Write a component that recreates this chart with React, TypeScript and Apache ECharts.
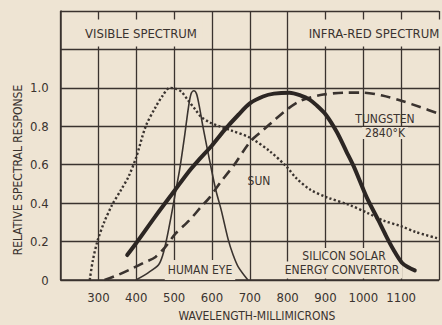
import React, { useEffect, useRef } from "react";
import * as echarts from "echarts";

// Wavelength (millimicrons) vs relative spectral response
const xTickLabels = [300, 400, 500, 600, 700, 800, 900, 1000, 1100];
const yTickLabels = [0, 0.2, 0.4, 0.6, 0.8, 1.0];

const sun: [number, number][] = [
  [277, 0], [285, 0.1], [297, 0.2], [315, 0.3], [336, 0.39], [360, 0.47], [380, 0.54],
  [400, 0.64], [425, 0.8], [451, 0.9], [470, 0.96], [488, 1.0], [505, 0.995],
  [519, 0.98], [535, 0.94], [555, 0.89], [571, 0.85], [594, 0.82], [620, 0.8], [649, 0.78],
  [701, 0.74], [753, 0.67], [797, 0.59], [823, 0.53], [860, 0.47], [904, 0.43], [964, 0.39],
  [1010, 0.35], [1052, 0.31], [1100, 0.28], [1138, 0.25], [1200, 0.215],
];

const humanEye: [number, number][] = [
  [399, 0], [433, 0.04], [459, 0.08], [470, 0.13], [480, 0.21], [492, 0.33], [503, 0.45],
  [515, 0.58], [527, 0.74], [538, 0.9], [545, 0.97], [552, 0.985], [559, 0.97], [566, 0.91],
  [576, 0.8], [594, 0.62], [610, 0.47], [625, 0.36], [643, 0.21], [656, 0.13], [669, 0.07],
  [695, 0],
];

const silicon: [number, number][] = [
  [376, 0.13], [399, 0.19], [450, 0.33], [503, 0.47], [537, 0.56], [563, 0.62], [600, 0.7],
  [633, 0.78], [670, 0.86], [701, 0.92], [735, 0.955], [764, 0.97], [805, 0.975], [835, 0.96],
  [857, 0.94], [876, 0.91], [901, 0.86], [930, 0.77], [955, 0.67], [975, 0.59], [1009, 0.43],
  [1040, 0.31], [1060, 0.23], [1079, 0.16], [1102, 0.09], [1120, 0.065], [1136, 0.05],
];

const tungsten: [number, number][] = [
  [316, 0], [350, 0.025], [389, 0.06], [420, 0.09], [451, 0.12], [480, 0.18], [503, 0.24],
  [540, 0.31], [571, 0.38], [594, 0.43], [623, 0.51], [659, 0.6], [701, 0.72], [735, 0.78],
  [764, 0.83], [800, 0.89], [831, 0.93], [860, 0.95], [894, 0.965], [950, 0.975],
  [1000, 0.975], [1050, 0.96], [1105, 0.93], [1150, 0.9], [1200, 0.865],
];

const BG = "#eee4d3";
const INK = "#3a332f";
const FONT = "'Liberation Sans Narrow', 'DejaVu Sans Condensed', 'Roboto', sans-serif";

export default function App() {
  const ref = useRef<HTMLDivElement>(null);

  useEffect(() => {
    if (!ref.current) return;
    const chart = echarts.init(ref.current, null, { renderer: "svg" });

    const label = (text: string, x: number, y: number, size: number, bg: boolean, extra: any = {}) => ({
      type: "text",
      x,
      y,
      z: 1,
      style: {
        text,
        fill: INK,
        font: `${size}px ${FONT}`,
        align: "center",
        verticalAlign: "middle",
        ...(bg ? { backgroundColor: BG, padding: [3, 3] } : {}),
        ...extra,
      },
    });

    chart.setOption({
      animation: false,
      backgroundColor: BG,
      grid: { left: 60.6, right: -2.6, top: 11, bottom: 45, containLabel: false },
      xAxis: {
        type: "value",
        min: 200,
        max: 1200,
        interval: 100,
        axisLine: { show: true, lineStyle: { color: INK, width: 1.5 } },
        axisTick: { show: false },
        splitLine: { show: true, lineStyle: { color: INK, width: 1.3 } },
        axisLabel: {
          color: INK,
          fontFamily: FONT,
          fontSize: 13,
          margin: 11,
          formatter: (v: number) => (xTickLabels.includes(v) ? String(v) : ""),
        },
      },
      yAxis: {
        type: "value",
        min: 0,
        max: 1.4,
        interval: 0.2,
        axisLine: { show: true, lineStyle: { color: INK, width: 1.5 } },
        axisTick: { show: false },
        splitLine: { show: true, lineStyle: { color: INK, width: 1.3 } },
        axisLabel: {
          color: INK,
          fontFamily: FONT,
          fontSize: 13,
          margin: 12,
          formatter: (v: number) => {
            const r = Math.round(v * 10) / 10;
            if (!yTickLabels.includes(r)) return "";
            return r === 0 ? "0" : r.toFixed(1);
          },
        },
      },
      series: [
        {
          name: "Sun",
          type: "line",
          data: sun,
          smooth: 0.3,
          showSymbol: false,
          z: 3,
          lineStyle: { color: INK, width: 2.4, type: [2.2, 2.3] },
        },
        {
          name: "Human eye",
          type: "line",
          data: humanEye,
          smooth: 0.3,
          showSymbol: false,
          z: 3,
          lineStyle: { color: INK, width: 1.6 },
        },
        {
          name: "Tungsten 2840°K",
          type: "line",
          data: tungsten,
          smooth: 0.3,
          showSymbol: false,
          z: 3,
          lineStyle: { color: INK, width: 2.6, type: [10, 6] },
        },
        {
          name: "Silicon solar energy convertor",
          type: "line",
          data: silicon,
          smooth: 0.3,
          showSymbol: false,
          z: 4,
          lineStyle: { color: "#2c2623", width: 4, cap: "round" },
        },
      ],
      graphic: [
        label("VISIBLE SPECTRUM", 141, 33, 13, true, { padding: [7, 6] }),
        label("INFRA-RED SPECTRUM", 374, 33, 13, true, { padding: [7, 6] }),
        label("TUNGSTEN", 385, 119, 12, false),
        label("2840°K", 385, 133, 12, true, { padding: [0, 3] }),
        label("SUN", 259, 181, 12, false),
        label("HUMAN EYE", 200, 270, 12, true, { padding: [4, 3] }),
        label("SILICON SOLAR", 344, 256, 12, true, { padding: [4, 3, 0, 3] }),
        label("ENERGY CONVERTOR", 342, 270, 12, true, { padding: [1, 3, 4, 3] }),
        {
          type: "text",
          x: 18,
          y: 170,
          z: 1,
          rotation: Math.PI / 2,
          style: {
            text: "RELATIVE SPECTRAL RESPONSE",
            fill: INK,
            font: `12px ${FONT}`,
            align: "center",
            verticalAlign: "middle",
          },
        },
        label("WAVELENGTH-MILLIMICRONS", 257, 316, 12, false),
      ],
    });

    return () => chart.dispose();
  }, []);

  return (
    <div
      ref={ref}
      style={{ position: "absolute", left: 0, top: 0, width: 442, height: 325, background: BG }}
    />
  );
}
